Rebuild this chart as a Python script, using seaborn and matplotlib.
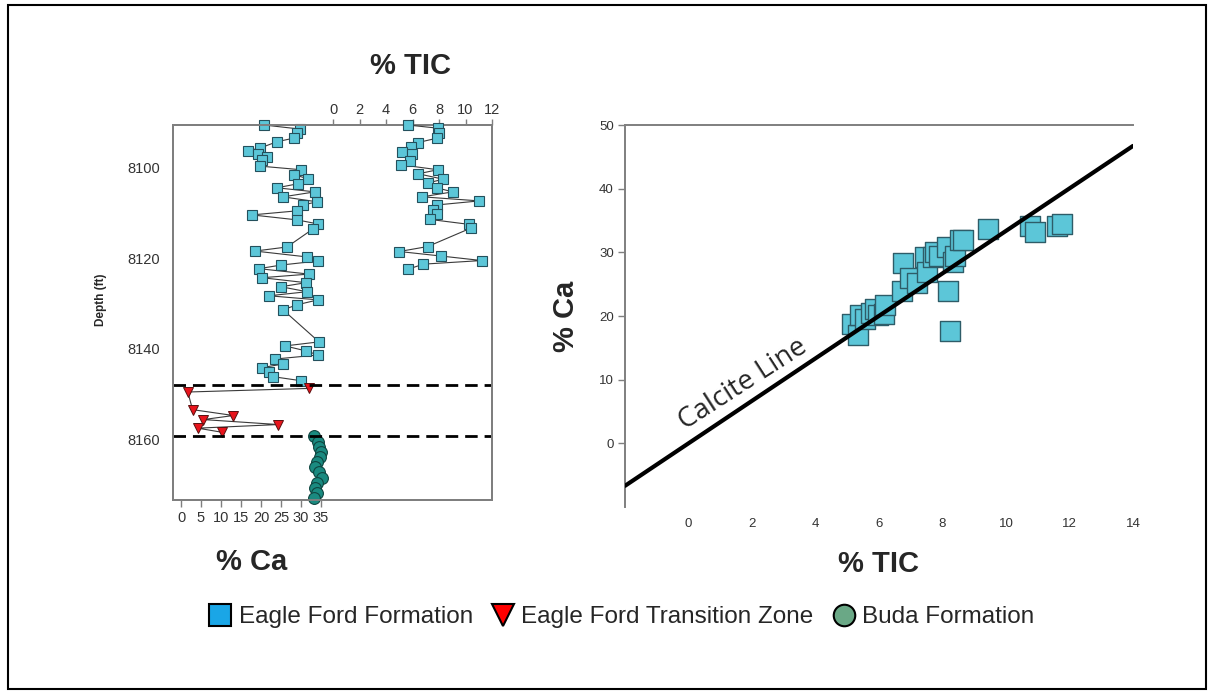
import numpy as np
import matplotlib
matplotlib.use("Agg")
import matplotlib.pyplot as plt
from matplotlib.lines import Line2D
from matplotlib.patches import Rectangle
import seaborn as sns

# ---- Eagle Ford Formation: calcium log (% Ca vs depth, ft) ----
ef_depth = [8090.5, 8091.4, 8092.3, 8093.4, 8094.2, 8095.6, 8096.2, 8096.9, 8097.6, 8098.2,
            8099.6, 8100.4, 8101.5, 8102.4, 8103.5, 8104.4, 8105.3, 8106.4, 8107.5, 8108.2,
            8109.5, 8110.4, 8111.5, 8112.4, 8113.5, 8117.5, 8118.4, 8119.7, 8120.6, 8121.5,
            8122.3, 8123.5, 8124.3, 8125.4, 8126.3, 8127.4, 8128.3, 8129.2, 8130.3, 8131.4,
            8138.5, 8139.4, 8140.5, 8141.4, 8142.3, 8143.4, 8144.2, 8145.1, 8146.2, 8147.1]
ef_ca = [20.75, 29.75, 29.0, 28.25, 24.0, 19.75, 16.75, 19.25, 21.5, 20.25,
         19.75, 30.0, 28.25, 31.75, 29.25, 24.0, 33.5, 25.5, 34.0, 30.5,
         29.0, 17.75, 29.0, 34.25, 33.0, 26.5, 18.5, 31.5, 34.25, 25.0,
         19.5, 32.0, 20.25, 31.25, 25.0, 31.5, 22.0, 34.25, 29.0, 25.5,
         34.5, 26.0, 31.25, 34.25, 23.5, 25.5, 20.25, 22.0, 23.0, 30.0]

# ---- Eagle Ford Formation: TIC log (% TIC vs depth, ft) ----
tic_depth = [8090.5, 8091.2, 8092.2, 8093.4, 8094.4, 8095.4, 8096.4, 8097.0, 8098.4, 8099.3,
             8100.4, 8101.3, 8102.5, 8103.3, 8104.4, 8105.3, 8106.4, 8107.3, 8108.2, 8109.3,
             8110.3, 8111.4, 8112.5, 8113.3, 8117.4, 8118.5, 8119.5, 8120.5, 8121.3, 8122.4]
tic_val = [5.64, 7.90, 8.02, 7.87, 6.39, 5.89, 5.18, 5.94, 5.81, 5.11,
           7.90, 6.44, 8.32, 7.19, 7.83, 9.03, 6.74, 11.04, 7.83, 7.57,
           7.87, 7.32, 10.29, 10.42, 7.15, 5.00, 8.15, 11.22, 6.82, 5.68]

# ---- Eagle Ford Transition Zone ----
tz_depth = [8148.8, 8149.6, 8153.5, 8154.8, 8155.7, 8156.8, 8157.6, 8158.5]
tz_ca = [32.1, 1.7, 2.9, 13.1, 5.6, 24.3, 4.2, 10.2]

# ---- Buda Formation ----
buda_depth = [8159.3, 8160.6, 8161.7, 8162.8, 8163.9, 8165.0, 8166.1, 8167.2, 8168.7,
              8169.8, 8170.9, 8172.0, 8173.0]
buda_ca = [33.3, 34.2, 34.6, 35.0, 34.75, 33.9, 33.5, 34.6, 35.3, 33.9, 33.5, 33.9, 33.3]

# formation boundaries (ft)
boundaries = [8148.0, 8159.3]

# ---- cross-plot: % Ca vs % TIC ----
xp_tic = [5.15, 5.35, 5.40, 5.55, 5.75, 5.87, 5.98, 6.15, 6.19, 6.71,
          6.77, 6.98, 7.19, 7.45, 7.50, 7.71, 7.76, 7.90, 8.13, 8.18,
          8.24, 8.33, 8.39, 8.55, 8.65, 9.44, 10.76, 10.91, 11.60, 11.75]
xp_ca = [18.8, 17.0, 20.1, 19.5, 20.5, 21.1, 20.1, 20.3, 21.7, 24.0,
         28.3, 25.9, 25.2, 29.2, 26.9, 29.2, 30.0, 29.5, 30.8, 24.0,
         17.7, 28.5, 29.5, 31.9, 31.9, 33.7, 34.2, 33.2, 34.2, 34.5]

# calcite stoichiometry: Ca / C mass ratio in CaCO3
calcite_ratio = 40.078 / 12.011
calcite_tic = [-2.0, 14.0]

ca_ticks = [0, 5, 10, 15, 20, 25, 30, 35]
tic_ticks_log = [0, 2, 4, 6, 8, 10, 12]
depth_ticks = [8100, 8120, 8140, 8160]
xp_xticks = [0, 2, 4, 6, 8, 10, 12, 14]
xp_yticks = [0, 10, 20, 30, 40, 50]

legend_labels = ["Eagle Ford Formation", "Eagle Ford Transition Zone", "Buda Formation"]

sns.set_style("white")
plt.rcParams["font.family"] = ["Liberation Sans", "DejaVu Sans"]

W, H = 1214, 694
fig = plt.figure(figsize=(W / 100, H / 100), dpi=100)

def fbox(x0, y0, x1, y1):
    return [x0 / W, 1 - y1 / H, (x1 - x0) / W, (y1 - y0) / H]

SQ_FACE = "#5cc6d8"
SQ_EDGE = "#24505c"
SPINE = "#7f7f7f"
TICKTXT = "#333333"

# ================= left panel: depth logs =================
ax = fig.add_axes(fbox(173, 125, 492, 500))
ax.set_xlim(-2, 77.75)
ax.set_ylim(8173.5, 8090.5)

sns.lineplot(x=ef_ca, y=ef_depth, orient="y", estimator=None, ax=ax,
             color="#3a3a3a", linewidth=0.8, marker="s", markersize=7,
             markerfacecolor=SQ_FACE, markeredgecolor=SQ_EDGE, markeredgewidth=0.8,
             clip_on=False, zorder=3)
sns.lineplot(x=tz_ca, y=tz_depth, orient="y", estimator=None, ax=ax,
             color="#3a3a3a", linewidth=0.8, marker="v", markersize=7.5,
             markerfacecolor="#e8141c", markeredgecolor="#5a1010", markeredgewidth=0.7,
             clip_on=False, zorder=3)
sns.lineplot(x=buda_ca, y=buda_depth, orient="y", estimator=None, ax=ax,
             color="#3a3a3a", linewidth=0.8, marker="o", markersize=8.5,
             markerfacecolor="#1a8a80", markeredgecolor="#0f4540", markeredgewidth=0.8,
             clip_on=False, zorder=3)

for d in boundaries:
    ax.axhline(d, color="black", linewidth=2.0, linestyle=(0, (4.5, 2.5)), zorder=4)

ax.set_xticks(ca_ticks)
ax.set_xticklabels([str(t) for t in ca_ticks])
ax.set_yticks(depth_ticks)
ax.set_yticklabels([str(t) for t in depth_ticks])
ax.tick_params(axis="x", direction="out", length=5, width=1, color=SPINE,
               labelsize=10.5, labelcolor=TICKTXT, pad=3, bottom=True)
ax.tick_params(axis="y", length=0, labelsize=10.5, labelcolor=TICKTXT, pad=9)
ax.set_xlabel("")
ax.set_ylabel("")
for s in ax.spines.values():
    s.set_color(SPINE)
    s.set_linewidth(1.4)

ax_t = ax.twiny()
ax_t.set_xlim(-12.08, 12.0)
sns.lineplot(x=tic_val, y=tic_depth, orient="y", estimator=None, ax=ax_t,
             color="#3a3a3a", linewidth=0.8, marker="s", markersize=7,
             markerfacecolor=SQ_FACE, markeredgecolor=SQ_EDGE, markeredgewidth=0.8,
             clip_on=False, zorder=3)
ax_t.set_ylim(8173.5, 8090.5)
ax_t.set_xticks(tic_ticks_log)
ax_t.set_xticklabels([str(t) for t in tic_ticks_log])
ax_t.tick_params(axis="x", direction="out", length=4, width=1, color=SPINE,
                 labelsize=10.5, labelcolor=TICKTXT, pad=2, top=True)
ax_t.set_xlabel("")
ax_t.set_ylabel("")
for s in ax_t.spines.values():
    s.set_color(SPINE)
    s.set_linewidth(1.4)

fig.text(411 / W, 1 - 66 / H, "% TIC", ha="center", va="center",
         fontsize=21, fontweight="bold")
fig.text(252 / W, 1 - 562 / H, "% Ca", ha="center", va="center",
         fontsize=21, fontweight="bold")
fig.text(101 / W, 1 - 300 / H, "Depth (ft)", ha="center", va="center",
         rotation=90, fontsize=8.5, fontweight="bold")

# ================= right panel: Ca vs TIC cross-plot =================
ax2 = fig.add_axes(fbox(625, 125, 1133, 507))
ax2.set_xlim(-2, 14)
ax2.set_ylim(-10, 50)

calcite_ca = [t * calcite_ratio for t in calcite_tic]
sns.lineplot(x=calcite_tic, y=calcite_ca, ax=ax2, color="black", linewidth=3,
             estimator=None, sort=False, zorder=3)
sns.scatterplot(x=xp_tic, y=xp_ca, ax=ax2, marker="s", s=200,
                color=SQ_FACE, edgecolor="#2e5c68", linewidth=1.0, zorder=2)

ax2.set_xticks(xp_xticks)
ax2.set_xticklabels([str(t) for t in xp_xticks])
ax2.set_yticks(xp_yticks)
ax2.set_yticklabels([str(t) for t in xp_yticks])
ax2.tick_params(axis="y", direction="out", length=5, width=1, color=SPINE,
                labelsize=9.5, labelcolor=TICKTXT, pad=3, left=True)
ax2.tick_params(axis="x", length=0, labelsize=9.5, labelcolor=TICKTXT, pad=8)
ax2.set_xlabel("% TIC", fontsize=21, fontweight="bold", labelpad=14)
ax2.set_ylabel("% Ca", fontsize=21, fontweight="bold", labelpad=14)
for name, s in ax2.spines.items():
    s.set_color(SPINE)
    s.set_linewidth(1.4)
ax2.spines["right"].set_visible(False)
ax2.spines["bottom"].set_visible(False)

# label rotated along the calcite line
p0 = ax2.transData.transform((calcite_tic[0], calcite_ca[0]))
p1 = ax2.transData.transform((calcite_tic[1], calcite_ca[1]))
angle = np.degrees(np.arctan2(p1[1] - p0[1], p1[0] - p0[0]))
ax2.text(1.72, 9.3, "Calcite Line", rotation=angle - 1, rotation_mode="anchor",
         ha="center", va="center", fontsize=20, family=["Open Sans", "DejaVu Sans"])

# ================= legend =================
handles = [
    Line2D([], [], linestyle="none", marker="s", markersize=15.5,
           markerfacecolor="#1aa6e6", markeredgecolor="black", markeredgewidth=1.5),
    Line2D([], [], linestyle="none", marker="v", markersize=16.5,
           markerfacecolor="#ff0000", markeredgecolor="black", markeredgewidth=1.5),
    Line2D([], [], linestyle="none", marker="o", markersize=15.5,
           markerfacecolor="#6aa886", markeredgecolor="black", markeredgewidth=1.5),
]
fig.legend(handles, legend_labels, loc="center", bbox_to_anchor=(622 / W, 1 - 617 / H),
           ncol=3, frameon=False, fontsize=17.5, handlelength=0.9, handletextpad=0.3,
           columnspacing=0.8)

# outer frame
fig.add_artist(Rectangle((8 / W, 1 - 689 / H), 1198 / W, 684 / H, transform=fig.transFigure,
                         fill=False, edgecolor="black", linewidth=1.5))

fig.savefig("out.png", dpi=100)
